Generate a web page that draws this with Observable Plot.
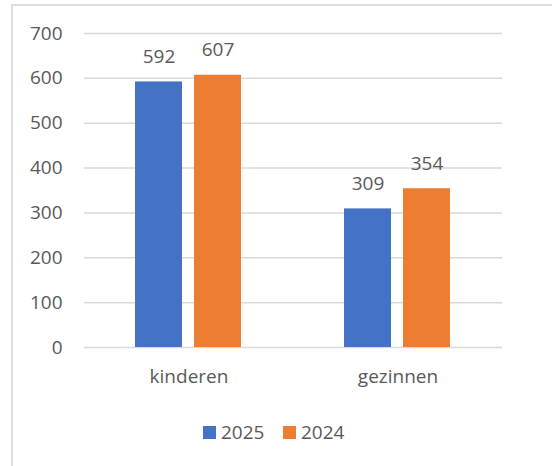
<!DOCTYPE html>
<html>
<head>
<meta charset="utf-8">
<script src="https://cdn.jsdelivr.net/npm/d3@7"></script>
<script src="https://cdn.jsdelivr.net/npm/@observablehq/plot@0.6"></script>
<style>
  html, body { margin: 0; padding: 0; background: #fff; }
  body { width: 552px; height: 466px; position: relative; overflow: hidden; font-family: "Open Sans", sans-serif; }
  #frame { position: absolute; left: 11px; top: 4px; width: 600px; height: 500px; border-left: 2px solid #dedede; border-top: 2px solid #dedede; }
  #chart { position: absolute; left: 0; top: 0; }
  #legend { position: absolute; top: 420px; left: 0; width: 552px; height: 24px; }
  .item { position: absolute; top: 0; display: flex; align-items: center; font-size: 19px; color: #595959; line-height: 24px; }
  .sw { width: 13px; height: 13px; margin-right: 5px; }
</style>
</head>
<body>
<div id="frame"></div>
<div id="chart"></div>
<div id="legend"></div>
<script>
const categories = ["kinderen", "gezinnen"];
const series = ["2025", "2024"];
const values2025 = [592, 309];
const values2024 = [607, 354];
const yTicks = [0, 100, 200, 300, 400, 500, 600, 700];
const colors = ["#4472C4", "#ED7D31"];

const data = [];
categories.forEach((c, i) => {
  data.push({category: c, year: series[0], value: values2025[i]});
  data.push({category: c, year: series[1], value: values2024[i]});
});

const chart = Plot.plot({
  width: 552,
  height: 400,
  marginLeft: 84,
  marginRight: 50,
  marginTop: 33,
  marginBottom: 53,
  style: {fontFamily: "Open Sans, sans-serif", fontSize: "19px", color: "#595959", background: "transparent"},
  fx: {domain: categories, padding: 0, label: null, axis: "bottom", tickSize: 0, tickPadding: 22},
  x: {domain: series, paddingInner: 0.2, paddingOuter: 0.86, axis: null},
  y: {domain: [0, 700], axis: null},
  color: {domain: series, range: colors},
  marks: [
    Plot.gridY(yTicks, {stroke: "#d9d9d9", strokeOpacity: 1, strokeWidth: 1.5}),
    Plot.axisY(yTicks, {tickSize: 0, tickPadding: 22, label: null, fontSize: 19, fill: "#595959", tickFormat: d => String(d)}),
    Plot.barY(data, {fx: "category", x: "year", y: "value", fill: "year"}),
    Plot.text(data, {fx: "category", x: "year", y: "value", text: d => String(d.value), dy: -25, lineAnchor: "middle", fill: "#595959", fontSize: 19})
  ]
});
document.getElementById("chart").appendChild(chart);

const legend = document.getElementById("legend");
const lefts = [203, 283];
series.forEach((s, i) => {
  const it = document.createElement("div");
  it.className = "item";
  it.style.left = lefts[i] + "px";
  const sw = document.createElement("span");
  sw.className = "sw";
  sw.style.background = colors[i];
  const t = document.createElement("span");
  t.textContent = s;
  it.appendChild(sw);
  it.appendChild(t);
  legend.appendChild(it);
});
</script>
</body>
</html>
